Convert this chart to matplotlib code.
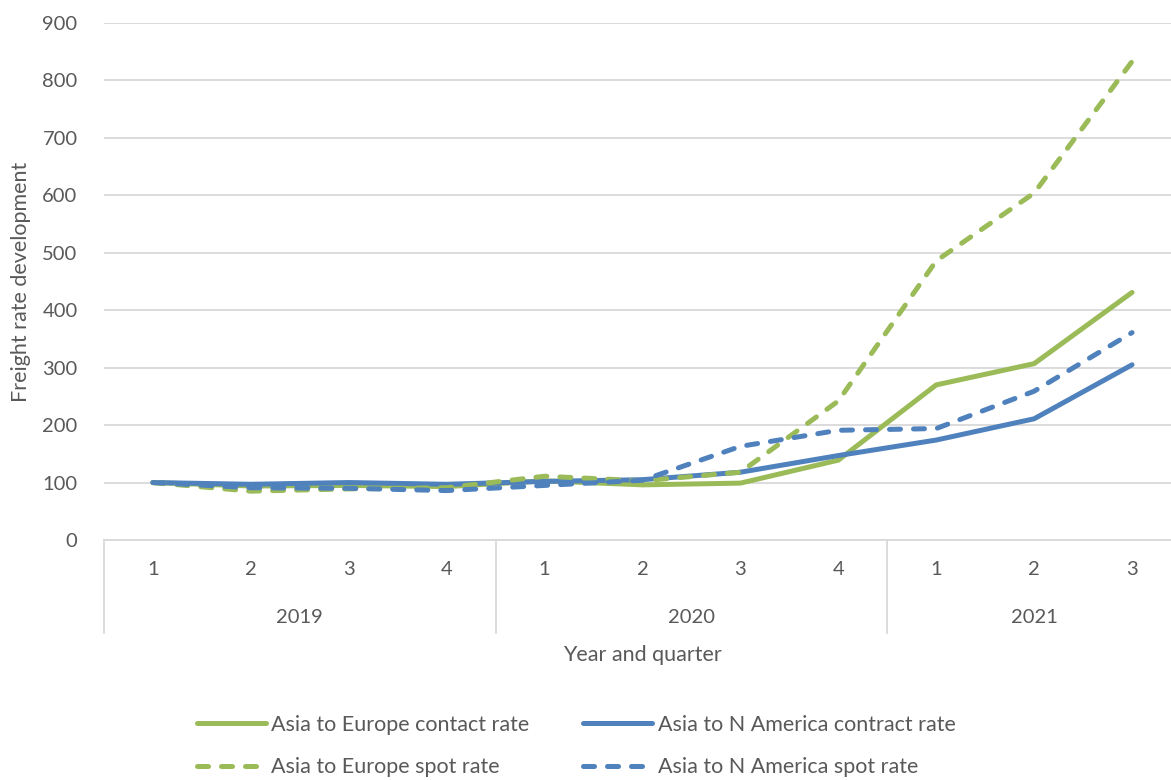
import matplotlib.pyplot as plt
from matplotlib import transforms

plt.rcParams['font.family'] = ['Lato', 'DejaVu Sans']

# Dados (índice, 2019 T1 = 100)
anos = ['2019', '2020', '2021']
trimestres = ['1', '2', '3', '4', '1', '2', '3', '4', '1', '2', '3']
europa_contrato = [100, 94, 95, 93, 103, 96, 99, 139, 270, 307, 431]
america_contrato = [100, 97, 100, 97, 102, 105, 118, 147, 174, 211, 305]
europa_spot = [100, 85, 89, 91, 111, 103, 118, 242, 486, 604, 833]
america_spot = [100, 91, 90, 86, 95, 104, 163, 191, 194, 259, 361]

verde = '#9BBB59'
azul = '#4F81BD'
cinza = '#D9D9D9'
texto = '#595959'
fs = 14.5

fig = plt.figure(figsize=(11.71, 7.8), dpi=100)
ax = fig.add_axes([104 / 1171, 240 / 780, 1077 / 1171, 517 / 780])

x = list(range(len(trimestres)))
lw = 3.6
tracos = (2.2, 2.6)
l1, = ax.plot(x, europa_contrato, color=verde, lw=lw, solid_capstyle='round',
              label='Asia to Europe contact rate')
l2, = ax.plot(x, america_contrato, color=azul, lw=lw, solid_capstyle='round',
              label='Asia to N America contract rate')
l3, = ax.plot(x, europa_spot, color=verde, lw=lw, dashes=tracos, dash_capstyle='round',
              label='Asia to Europe spot rate')
l4, = ax.plot(x, america_spot, color=azul, lw=lw, dashes=tracos, dash_capstyle='round',
              label='Asia to N America spot rate')

ax.set_xlim(-0.5, len(trimestres) - 0.5)
ax.set_ylim(0, 900)
ax.set_yticks(range(0, 901, 100))
ax.grid(axis='y', color=cinza, lw=1.3)
ax.set_axisbelow(True)
ax.tick_params(axis='y', length=0, pad=19, labelsize=fs, labelcolor=texto)
ax.set_xticks([])
for lado in ['top', 'right', 'left']:
    ax.spines[lado].set_visible(False)
ax.spines['bottom'].set_color(cinza)
ax.spines['bottom'].set_linewidth(1.3)

# eixo de categorias em dois níveis
trans = transforms.blended_transform_factory(ax.transData, ax.transAxes)
for i, t in enumerate(trimestres):
    ax.text(i, -0.058, t, transform=trans, ha='center', va='center',
            fontsize=fs, color=texto)
for j, a in enumerate(anos):
    ini = j * 4 - 0.5
    if j < 2:
        centro = ini + 2
    else:
        centro = ini + 1.5
    ax.text(centro, -0.149, a, transform=trans, ha='center', va='center',
            fontsize=fs, color=texto)
    ax.plot([ini, ini], [0, -0.18], transform=trans, color=cinza, lw=1.3,
            clip_on=False)

ax.text(0.5, -0.222, 'Year and quarter', transform=ax.transAxes, ha='center',
        va='center', fontsize=15.5, color=texto)
ax.set_ylabel('Freight rate development', fontsize=15.5, color=texto, labelpad=8)

fig.legend(handles=[l1, l3, l2, l4], ncol=2, loc='center',
           bbox_to_anchor=(0.492, 0.0436), frameon=False, fontsize=15.5,
           handlelength=3.2, columnspacing=2.5, labelspacing=1.05,
           labelcolor=texto, handletextpad=0.25)

fig.savefig('out.png', dpi=100)
